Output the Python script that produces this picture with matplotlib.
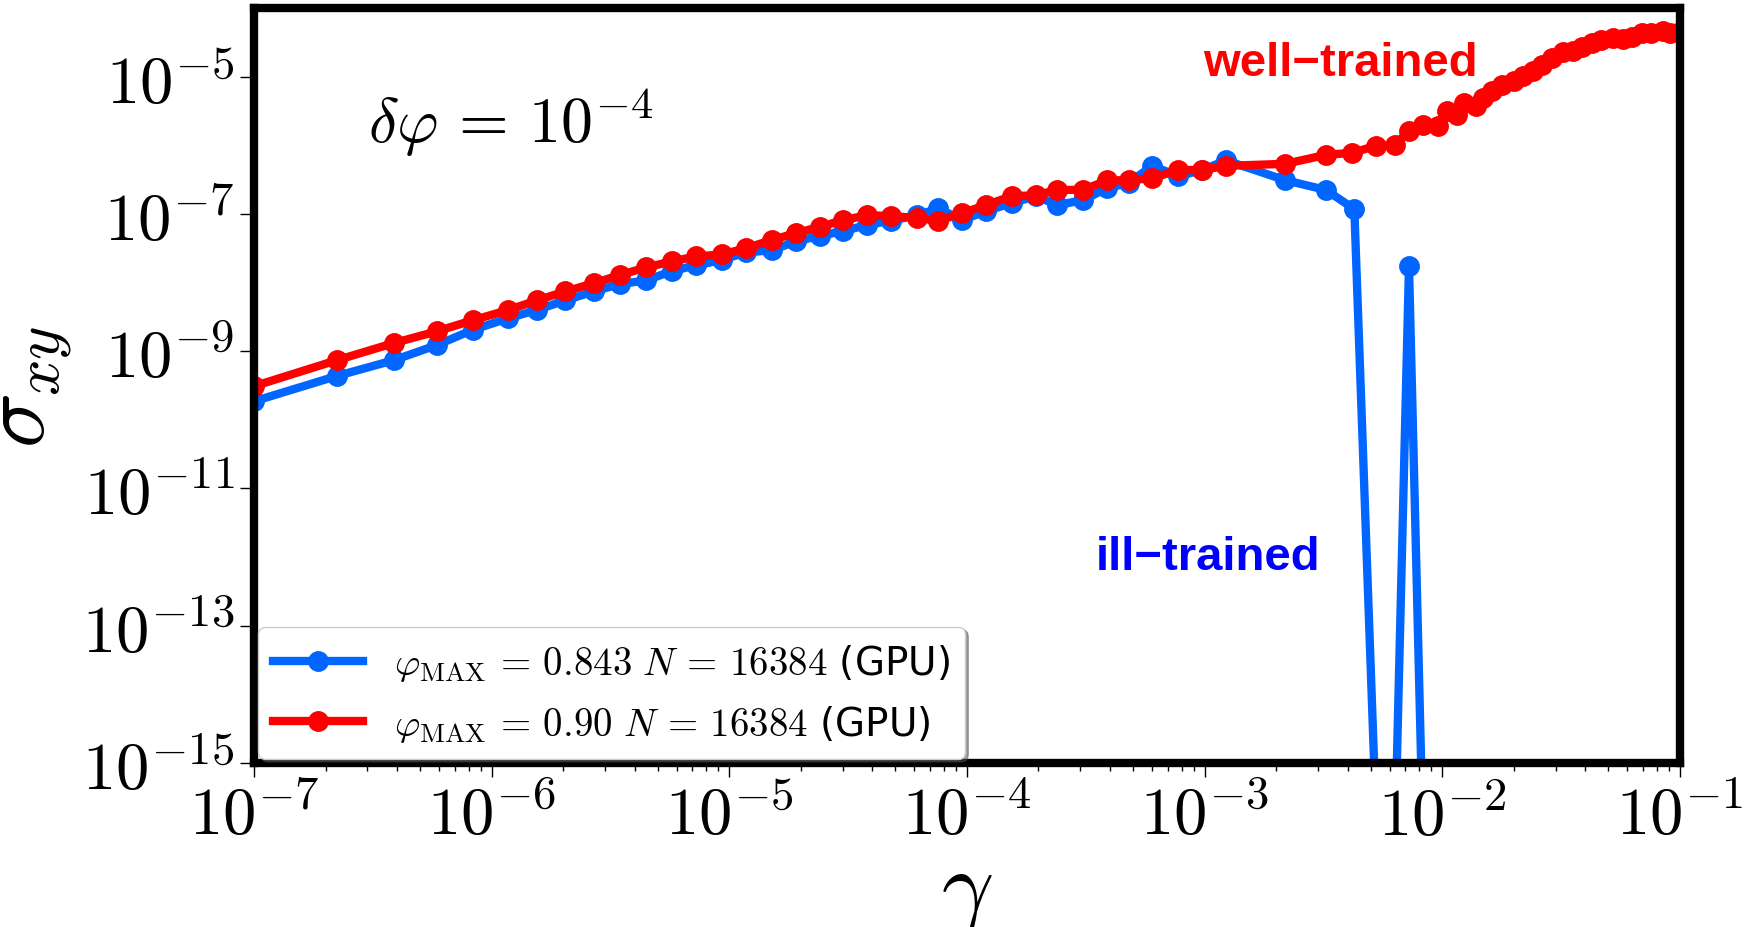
import numpy as np
import matplotlib
matplotlib.use("Agg")
import matplotlib.pyplot as plt
from matplotlib import ticker

plt.rcParams['mathtext.fontset'] = 'cm'

# log10(gamma), log10(sigma_xy)
red_lg = [-7.00, -6.65, -6.41, -6.23, -6.08, -5.93, -5.81, -5.69, -5.57, -5.46,
          -5.35, -5.24, -5.14, -5.03, -4.93, -4.82, -4.72, -4.62, -4.52, -4.42,
          -4.32, -4.21, -4.12, -4.02, -3.92, -3.81, -3.71, -3.62, -3.51, -3.41,
          -3.32, -3.22, -3.11, -3.01, -2.91, -2.66, -2.49, -2.38, -2.28, -2.20,
          -2.14, -2.08, -2.02, -1.98, -1.94, -1.91, -1.86, -1.83, -1.79, -1.75,
          -1.70, -1.66, -1.62, -1.58, -1.54, -1.49, -1.45, -1.41, -1.37, -1.33,
          -1.28, -1.24, -1.20, -1.16, -1.12, -1.07, -1.04, -1.00]
red_ls = [-9.51, -9.13, -8.88, -8.71, -8.55, -8.40, -8.26, -8.13, -8.01, -7.89,
          -7.78, -7.69, -7.62, -7.59, -7.50, -7.38, -7.28, -7.19, -7.09, -7.02,
          -7.03, -7.06, -7.10, -6.99, -6.87, -6.74, -6.73, -6.65, -6.65, -6.51,
          -6.51, -6.48, -6.36, -6.36, -6.30, -6.27, -6.14, -6.11, -6.01, -6.00,
          -5.79, -5.71, -5.72, -5.50, -5.56, -5.38, -5.43, -5.31, -5.21, -5.12,
          -5.06, -4.99, -4.92, -4.83, -4.73, -4.64, -4.62, -4.57, -4.51, -4.47,
          -4.44, -4.45, -4.42, -4.36, -4.36, -4.33, -4.37, -4.35]

blue_lg = [-7.00, -6.65, -6.41, -6.23, -6.08, -5.93, -5.81, -5.69, -5.57, -5.46,
           -5.35, -5.24, -5.14, -5.03, -4.93, -4.82, -4.72, -4.62, -4.52, -4.42,
           -4.32, -4.21, -4.12, -4.02, -3.92, -3.81, -3.71, -3.62, -3.51, -3.41,
           -3.32, -3.22, -3.11, -3.01, -2.91, -2.66, -2.49, -2.37, -2.23, -2.14,
           -2.05, -1.60, -1.00]
blue_ls = [-9.73, -9.36, -9.13, -8.91, -8.69, -8.52, -8.40, -8.26, -8.13, -8.02,
           -7.97, -7.83, -7.75, -7.67, -7.56, -7.53, -7.40, -7.32, -7.25, -7.16,
           -7.10, -7.02, -6.92, -7.09, -6.96, -6.84, -6.74, -6.87, -6.80, -6.62,
           -6.55, -6.30, -6.45, -6.36, -6.22, -6.51, -6.65, -6.93, -20.5, -7.76,
           -20.5, -19.5, -15.15]

label_blue = r'$\varphi_{\rm MAX} \,=\, 0.843\ N \,=\, 16384$ (GPU)'
label_red = r'$\varphi_{\rm MAX} \,=\, 0.90\ N \,=\, 16384$ (GPU)'

gamma_red, sig_red = 10.0**np.array(red_lg), 10.0**np.array(red_ls)
gamma_blue, sig_blue = 10.0**np.array(blue_lg), 10.0**np.array(blue_ls)

fig = plt.figure(figsize=(17.6, 9.28), dpi=100)
ax = fig.add_axes([0.1443, 0.1767, 0.8102, 0.8136])

ax.plot(gamma_blue, sig_blue, '-o', color='#0066ff', lw=6, ms=14, label=label_blue)
ax.plot(gamma_red, sig_red, '-o', color='#ff0000', lw=6, ms=14, label=label_red)

ax.set_xscale('log')
ax.set_yscale('log')
ax.set_xlim(1e-7, 1e-1)
ax.set_ylim(1e-15, 1e-4)

ax.set_yticks([1e-15, 1e-13, 1e-11, 1e-9, 1e-7, 1e-5])
ax.yaxis.set_minor_locator(ticker.NullLocator())
ax.xaxis.set_major_locator(ticker.LogLocator(base=10, numticks=10))
ax.xaxis.set_minor_locator(ticker.LogLocator(base=10, subs=np.arange(2, 10), numticks=20))
fmt = ticker.FuncFormatter(lambda v, p: r'$10^{%d}$' % int(round(np.log10(v))))
ax.xaxis.set_major_formatter(fmt)
ax.yaxis.set_major_formatter(fmt)
ax.xaxis.set_minor_formatter(ticker.NullFormatter())

ax.tick_params(which='major', length=10, width=1, labelsize=48, pad=4)
ax.tick_params(which='minor', length=6, width=1)
for s in ax.spines.values():
    s.set_linewidth(6)

ax.set_xlabel(r'$\gamma$', fontsize=66, labelpad=-2)
ax.set_ylabel(r'$\sigma_{xy}$', fontsize=66, labelpad=6)

ax.text(0.18, 0.849, r'$\delta\varphi \,=\, 10^{-4}$', transform=ax.transAxes,
        fontsize=46, ha='center', va='center')
ax.text(0.762, 0.927, 'well\u2212trained', transform=ax.transAxes, color='#ff0000',
        fontsize=34, fontweight='bold', family='Liberation Sans', ha='center', va='center')
ax.text(0.669, 0.273, 'ill\u2212trained', transform=ax.transAxes, color='#0000ff',
        fontsize=34, fontweight='bold', family='Liberation Sans', ha='center', va='center')

ax.legend(loc='lower left', fontsize=28, shadow=True, fancybox=True, framealpha=1,
          borderaxespad=0.1, handlelength=2.3, labelspacing=0.5)

fig.savefig('out.png', dpi=100)
